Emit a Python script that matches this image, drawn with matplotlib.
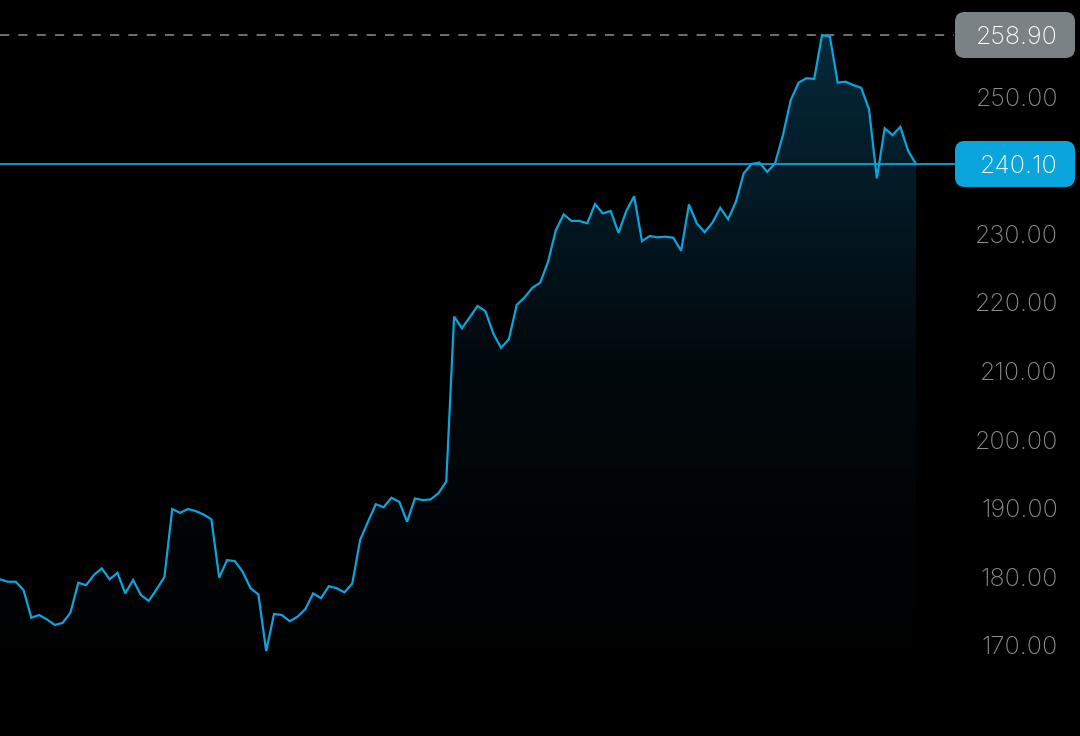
import matplotlib
matplotlib.use('Agg')
import matplotlib.pyplot as plt
import matplotlib.transforms as mtransforms
import numpy as np
from matplotlib.patches import FancyBboxPatch
from matplotlib.colors import LinearSegmentedColormap

# Ceny zamkniecia
prices = [
    179.55, 179.2, 179.2, 178.0, 173.95, 174.35, 173.7, 172.9, 173.2, 174.7,
    179.05, 178.7, 180.2, 181.15, 179.55, 180.5, 177.5, 179.45, 177.25, 176.4,
    178.1, 179.9, 189.8, 189.25, 189.8, 189.5, 189.0, 188.3, 179.8, 182.35,
    182.2, 180.65, 178.25, 177.35, 169.1, 174.5, 174.35, 173.45, 174.1, 175.2,
    177.5, 176.8, 178.55, 178.25, 177.65, 178.95,
    185.3, 187.95, 190.5, 190.05, 191.45, 190.85, 187.95, 191.35, 191.1, 191.2,
    192.1, 193.8, 217.85, 216.15, 217.75, 219.4, 218.65, 215.4, 213.3, 214.55,
    219.55, 220.65, 222.05, 222.8, 225.85, 230.45, 232.75, 231.8, 231.8, 231.45,
    234.25, 232.9, 233.25, 230.05, 233.25, 235.4, 228.85, 229.6, 229.4, 229.5,
    229.35, 227.45,
    234.2, 231.45, 230.15, 231.55, 233.7, 232.05, 234.6, 238.75, 240.1, 240.3,
    238.95, 240.2, 244.3, 249.4, 251.95, 252.6, 252.5, 258.9, 258.65, 251.95,
    252.1, 251.6, 251.2, 248.05, 238.0, 245.3, 244.3, 245.5, 242.0, 240.1,
]
yticks = [170, 180, 190, 200, 210, 220, 230, 250]
high_price = 258.90
last_price = 240.10

line_color = '#0aa5dc'
x = np.arange(len(prices))
y = np.array(prices)

fig = plt.figure(figsize=(10.8, 7.36), dpi=100, facecolor='black')
ax = fig.add_axes([0, 0, 1, 1])
ax.set_facecolor('black')
ymax = 264.0
ymin = ymax - 736 / 6.86
xmax = (len(prices) - 1) * 1080 / 916
ax.set_xlim(0, xmax)
ax.set_ylim(ymin, ymax)
ax.axis('off')

# Wypelnienie gradientowe pod linia
poly = ax.fill_between(x, y, ymin, color='none', lw=0)
cmap = LinearSegmentedColormap.from_list('g', ['#000000', '#02090d', '#04293a'])
grad = np.linspace(0, 1, 256).reshape(-1, 1)
img = ax.imshow(grad, cmap=cmap, aspect='auto', origin='lower',
                extent=[0, x[-1], 164.5, high_price], zorder=1)
img.set_clip_path(poly.get_paths()[0], transform=ax.transData)

ax.plot(x, y, color=line_color, lw=1.6, zorder=3, solid_joinstyle='miter')

# Linie poziome: maksimum i ostatnia cena
label_x = 954
ax.plot([0, (label_x / 1080) * xmax], [high_price, high_price], color='#8a8f92',
        lw=1.1, ls=(0, (6, 6)), zorder=2)
ax.plot([0, (label_x / 1080) * xmax], [last_price, last_price], color=line_color,
        lw=1.3, zorder=2)

# przesuniecie etykiet o ~3 px w dol
shift = mtransforms.ScaledTranslation(0, -3 / 100, fig.dpi_scale_trans)

font = ['Inter', 'DejaVu Sans']
for t in yticks:
    ax.text(1058 / 1080, t, f'{t:.2f}', transform=ax.get_yaxis_transform() + shift,
            ha='right', va='center', color='#8c8c8c', fontsize=18,
            family=font, fontweight='light')

for val, bg in [(high_price, '#7b8285'), (last_price, line_color)]:
    yc = ax.transData.transform((0, val))[1] / 736
    box = FancyBboxPatch((955 / 1080, yc - 23 / 736), 120 / 1080, 46 / 736,
                         boxstyle='round,pad=0,rounding_size=0.009',
                         transform=fig.transFigure, facecolor=bg,
                         edgecolor='none', zorder=4, mutation_aspect=1080 / 736)
    fig.patches.append(box)
    fig.text(1058 / 1080, yc, f'{val:.2f}', ha='right', va='center',
             transform=fig.transFigure + shift,
             color='white', fontsize=18, family=font, fontweight='light', zorder=5)

fig.savefig('out.png', dpi=100, facecolor='black')
